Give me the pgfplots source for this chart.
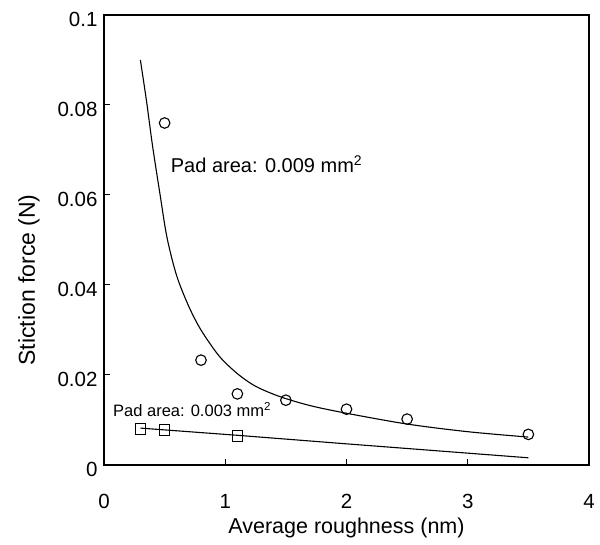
\documentclass[border=0pt]{standalone}
\usepackage{fontspec}
\setmainfont{Liberation Sans}
\usepackage{pgfplots}
\pgfplotsset{compat=1.18}
\begin{document}
\begin{tikzpicture}
\useasboundingbox (-104pt,-80pt) rectangle (496pt,465pt);
\begin{axis}[
  scale only axis,
  width=485pt, height=450pt,
  xmin=0, xmax=4, ymin=0, ymax=0.1,
  xtick={0,1,2,3,4},
  ytick={0,0.02,0.04,0.06,0.08,0.1},
  yticklabels={0\hspace{10pt},0.02,0.04,0.06,0.08,0.1},
  xticklabels={0,1,2,3,4},
  tick align=inside,
  xtick pos=bottom, ytick pos=left,
  major tick length=6pt,
  axis line style={line width=2.2pt},
  every tick/.style={black, line width=1pt},
  /pgf/number format/assume math mode=true,
  tick label style={font=\fontsize{20.5}{24}\selectfont},
  xticklabel style={yshift=-26pt},
  yticklabel style={xshift=-3pt, yshift=-4pt},
  xlabel style={font=\fontsize{21.5}{25}\selectfont, yshift=-2pt},
  ylabel style={font=\fontsize{23}{27}\selectfont, xshift=-40pt, yshift=11pt},
  xlabel={Average roughness (nm)},
  ylabel={Stiction force (N)},
  clip=false,
]
% fitted curve, 0.009 mm^2
\addplot[black, line width=1.1pt, smooth, no marks] coordinates {
(0.30,0.0900) (0.35,0.0810) (0.40,0.0710) (0.46,0.0605) (0.52,0.0505)
(0.60,0.0420) (0.70,0.0352) (0.80,0.0300) (0.95,0.0242) (1.10,0.0203)
(1.25,0.0175) (1.45,0.0152) (1.70,0.0132) (2.00,0.0115) (2.50,0.0091)
(3.00,0.0074) (3.50,0.0062)};
% fitted line, 0.003 mm^2
\addplot[black, line width=1.1pt, no marks] coordinates {
(0.30,0.0082) (1.10,0.0066) (2.00,0.0047) (3.50,0.0016)};
% circles
\addplot[only marks, mark=o, mark size=5.3pt, mark options={line width=1.1pt, fill=white, draw=black}] coordinates {
(0.5,0.0760) (0.8,0.0233) (1.1,0.0158) (1.5,0.0144) (2.0,0.0124) (2.5,0.0102) (3.5,0.0068)};
% squares
\addplot[only marks, mark=square, mark size=5.3pt, mark options={line width=1.1pt, draw=black}] coordinates {
(0.3,0.0080) (0.5,0.0078) (1.1,0.0064)};
\node[anchor=base west, inner sep=0pt, font=\fontsize{20}{24}\selectfont] at (axis cs:0.55,0.0649) {Pad area: 0.009 mm\textsuperscript{2}};
\node[anchor=base west, inner sep=0pt, font=\fontsize{16.5}{20}\selectfont] at (axis cs:0.074,0.0107) {Pad area: 0.003 mm\textsuperscript{2}};
\end{axis}
\end{tikzpicture}
\end{document}
